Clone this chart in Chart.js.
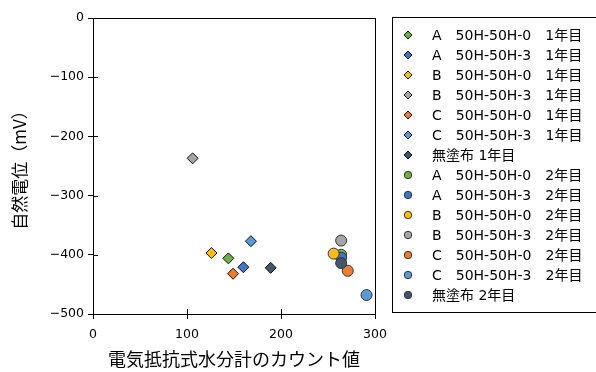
<!DOCTYPE html>
<html>
<head>
<meta charset="utf-8">
<script src="https://cdn.jsdelivr.net/npm/chart.js@4/dist/chart.umd.min.js"></script>
<style>
  html, body { margin: 0; padding: 0; background: #fff; }
  #wrap { width: 596px; height: 372px; }
</style>
</head>
<body>
<div id="wrap"><canvas id="c"></canvas></div>
<script>
// series names (legend order)
var seriesNames = [
  "A\u300050H-50H-0\u30001年目",
  "A\u300050H-50H-3\u30001年目",
  "B\u300050H-50H-0\u30001年目",
  "B\u300050H-50H-3\u30001年目",
  "C\u300050H-50H-0\u30001年目",
  "C\u300050H-50H-3\u30001年目",
  "無塗布 1年目",
  "A\u300050H-50H-0\u30002年目",
  "A\u300050H-50H-3\u30002年目",
  "B\u300050H-50H-0\u30002年目",
  "B\u300050H-50H-3\u30002年目",
  "C\u300050H-50H-0\u30002年目",
  "C\u300050H-50H-3\u30002年目",
  "無塗布 2年目"
];
// x: counts of the moisture meter, y: natural potential (mV)
var countValues = [144, 160, 126, 106, 149, 168, 189, 264, 264, 256, 264, 271, 291, 264];
var potentialValues = [-406, -421, -397, -237, -432, -377, -422, -400, -405, -398, -376, -427, -468, -414];
var xTicks = [0, 100, 200, 300];
var yTicks = [0, -100, -200, -300, -400, -500];

var palette = ["#70AD47", "#4472C4", "#FFC000", "#A5A5A5", "#ED7D31", "#5B9BD5", "#44546A"];
var latin = '"DejaVu Sans", "Noto Sans CJK JP", sans-serif';
var cjk = '"Noto Sans CJK JP", sans-serif';

var datasets = seriesNames.map(function (n, i) {
  var year2 = i >= 7;
  return {
    label: n,
    data: [{ x: countValues[i], y: potentialValues[i] }],
    pointStyle: year2 ? "circle" : "rectRot",
    pointRadius: year2 ? 5.5 : 5.5,
    pointHoverRadius: 5.5,
    backgroundColor: palette[i % 7],
    borderColor: year2 ? "#333" : "#111",
    borderWidth: 1,
    order: -i
  };
});

function markerPath(ctx, style, x, y, r) {
  ctx.beginPath();
  if (style == "circle") ctx.arc(x, y, r, 0, Math.PI * 2);
  else {
    ctx.moveTo(x - r, y);
    ctx.lineTo(x, y - r);
    ctx.lineTo(x + r, y);
    ctx.lineTo(x, y + r);
    ctx.closePath();
  }
}

var framePlugin = {
  id: "frame",
  afterDraw(chart) {
    var ctx = chart.ctx,
      a = chart.chartArea,
      xs = chart.scales.x,
      ys = chart.scales.y;
    ctx.save();
    ctx.strokeStyle = "#000";
    ctx.lineWidth = 1;
    ctx.strokeRect(Math.round(a.left) + 0.5, Math.round(a.top) + 0.5, Math.round(a.right - a.left), Math.round(a.bottom - a.top));
    // inner halves of the crossing ticks
    ctx.beginPath();
    xTicks.forEach(function (v) {
      var p = Math.round(xs.getPixelForValue(v)) + 0.5;
      ctx.moveTo(p, a.bottom);
      ctx.lineTo(p, a.bottom - 5);
    });
    yTicks.forEach(function (v) {
      var p = Math.round(ys.getPixelForValue(v)) + 0.5;
      ctx.moveTo(a.left, p);
      ctx.lineTo(a.left + 5, p);
    });
    ctx.stroke();

    // legend box
    ctx.strokeRect(392.5, 17.5, 220, 295);
    ctx.font = "14px " + latin;
    ctx.textBaseline = "middle";
    ctx.fillStyle = "#000";
    datasets.forEach(function (d, i) {
      var y = 35 + i * 20;
      markerPath(ctx, d.pointStyle, 408, y, d.pointStyle == "circle" ? 3.7 : 4);
      ctx.fillStyle = d.backgroundColor;
      ctx.fill();
      ctx.strokeStyle = d.borderColor;
      ctx.stroke();
      ctx.fillStyle = "#000";
      ctx.fillText(d.label, 432, y + 1);
    });
    ctx.restore();
  }
};

new Chart(document.getElementById("c"), {
  type: "scatter",
  data: { datasets: datasets },
  options: {
    responsive: true,
    maintainAspectRatio: false,
    animation: false,
    layout: { padding: { left: 0, top: 18, right: 221, bottom: 0 } },
    plugins: { legend: { display: false }, tooltip: { enabled: false } },
    scales: {
      x: {
        type: "linear",
        min: 0,
        max: 300,
        afterBuildTicks(s) { s.ticks = xTicks.map(function (v) { return { value: v }; }); },
        afterFit(s) { s.height = 58; },
        border: { display: true, color: "#000", width: 1 },
        grid: { drawOnChartArea: false, tickLength: 5, color: "#000" },
        ticks: { color: "#000", padding: 8, font: { family: latin, size: 12.5 } },
        title: { display: true, text: "電気抵抗式水分計のカウント値", color: "#000", font: { family: cjk, size: 18 }, padding: { bottom: 2 } }
      },
      y: {
        type: "linear",
        min: -500,
        max: 0,
        afterBuildTicks(s) { s.ticks = yTicks.map(function (v) { return { value: v }; }); },
        afterFit(s) { s.width = 93; },
        border: { display: true, color: "#000", width: 1 },
        grid: { drawOnChartArea: false, tickLength: 5, color: "#000" },
        ticks: {
          color: "#000",
          padding: 4,
          font: { family: latin, size: 12.5 },
          callback: function (v) { return String(v).replace("-", "\u2212"); }
        },
        title: { display: true, text: "自然電位（mV）", color: "#000", font: { family: cjk, size: 17 }, padding: { top: 9 } }
      }
    }
  },
  plugins: [framePlugin]
});
</script>
</body>
</html>
